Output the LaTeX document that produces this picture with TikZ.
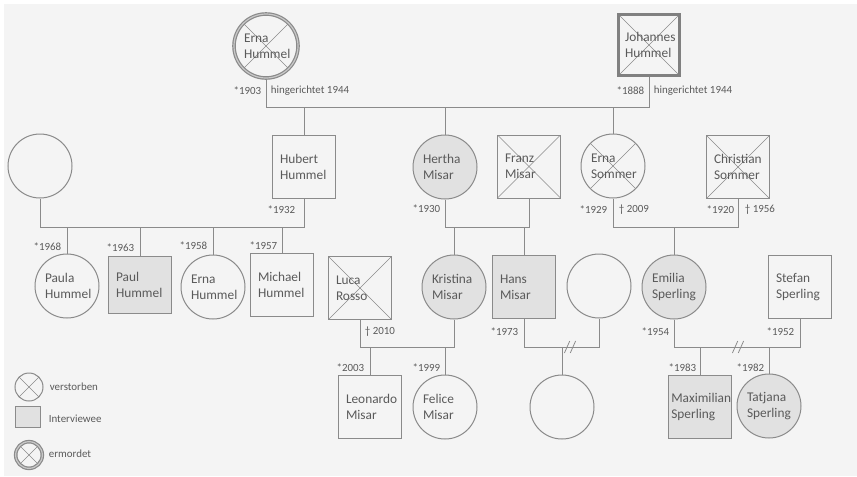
\documentclass[tikz,border=0pt]{standalone}
\usepackage{fontspec}
\setmainfont{Carlito}
\usetikzlibrary{patterns.meta}
\definecolor{linegray}{HTML}{8A8A8A}
\definecolor{textgray}{HTML}{5A5A5A}
\definecolor{bggray}{HTML}{F4F4F4}
\definecolor{dotbg}{HTML}{E8E8E8}
\definecolor{dotgray}{HTML}{9A9A9A}
\definecolor{ringgray}{HTML}{C8C8C8}
\newcommand{\namefont}{\fontsize{10}{12}\selectfont}
\newcommand{\lblfont}{\fontsize{8.2}{10}\selectfont}

\begin{document}
\begin{tikzpicture}[x=0.75pt, y=-0.75pt, line width=0.75pt, color=linegray,
    fem/.style={circle, draw=linegray, minimum size=48pt, inner sep=0pt,
        text=textgray, text width=33pt, align=left, font=\namefont},
    male/.style={rectangle, draw=linegray, minimum size=47.25pt, inner sep=0pt,
        text=textgray, text width=36pt, align=left, font=\namefont},
    dead/.style={path picture={
        \draw[linegray, line width=0.5pt] (path picture bounding box.north west) -- (path picture bounding box.south east);
        \draw[linegray, line width=0.5pt] (path picture bounding box.north east) -- (path picture bounding box.south west);}},
    interv/.style={fill=dotbg, postaction={pattern={Dots[distance=1.5pt, radius=0.25pt]}, pattern color=dotgray}},
    ring/.style={double=ringgray, double distance=0.9pt, line width=0.9pt},
    lbl/.style={text=textgray, font=\lblfont, inner sep=1pt}]

    % 背景
    \useasboundingbox (0,0) rectangle (857,476);
    \fill[white] (0,0) rectangle (857,476);
    \fill[bggray] (4,4) rectangle (857,476);

    % 第一代
    \node[fem, dead, ring] (ernaH) at (266,46) {Erna\\Hummel};
    \node[male, dead, draw=gray, line width=2.6pt, minimum size=45.5pt] (johannes) at (649,45) {Johannes\\Hummel};
    \coordinate (famTop) at (0,107);
    \draw (ernaH.south) |- (johannes.south |- famTop) -- (johannes.south);
    \node[lbl, anchor=east] (b1903) at (263,91) {*1903};
    \node[lbl, anchor=west] (d1903) at (269,91) {hingerichtet 1944};
    \node[lbl, anchor=east] (b1888) at (646,91) {*1888};
    \node[lbl, anchor=west] (d1888) at (652,91) {hingerichtet 1944};

    % 第二代
    \node[fem] (wifeH) at (40,166) {};
    \node[male] (hubert) at (304,166.5) {Hubert\\Hummel};
    \node[fem, interv] (hertha) at (445,167) {Hertha\\Misar};
    \node[male, dead] (franz) at (529,166.5) {Franz\\Misar};
    \node[fem, dead] (ernaS) at (613,166) {Erna\\Sommer};
    \node[male, dead] (christian) at (738,167) {Christian\\Sommer};
    \foreach \kid in {hubert, hertha, ernaS}
        \draw (\kid.north) -- (\kid.north |- famTop);

    \node[lbl, anchor=east] (b1932) at (297,210) {*1932};
    \node[lbl, anchor=east] (b1930) at (442,209) {*1930};
    \node[lbl, anchor=east] (b1929) at (609,210) {*1929};
    \node[lbl, anchor=west] (d1929) at (617,210) {† 2009};
    \node[lbl, anchor=east] (b1920) at (736,210) {*1920};
    \node[lbl, anchor=west] (d1920) at (743,210) {† 1956};

    \coordinate (famMid) at (0,227);
    \draw (wifeH.south) |- (hubert.south |- famMid) -- (hubert.south);
    \draw (hertha.south) |- (franz.south |- famMid) -- (franz.south);
    \draw (ernaS.south) |- (christian.south |- famMid) -- (christian.south);

    % 第三代
    \node[fem] (paula) at (67,286) {Paula\\Hummel};
    \node[male, interv, minimum height=42.75pt] (paul) at (140,284.5) {Paul\\Hummel};
    \node[fem] (ernaH2) at (213,287) {Erna\\Hummel};
    \node[male] (michael) at (282,284.5) {Michael\\Hummel};
    \node[male, dead] (luca) at (360,288) {Luca\\Rosso};
    \node[fem, interv] (kristina) at (454,287) {Kristina\\Misar};
    \node[male, interv] (hans) at (524,287) {Hans\\Misar};
    \node[fem] (partnerH) at (599,286) {};
    \node[fem, interv] (emilia) at (674,287) {Emilia\\Sperling};
    \node[male] (stefan) at (800,287) {Stefan\\Sperling};
    \foreach \kid in {paula, paul, ernaH2, michael, kristina, hans, emilia}
        \draw (\kid.north) -- (\kid.north |- famMid);

    \node[lbl, anchor=east] (b1968) at (63,247) {*1968};
    \node[lbl, anchor=east] (b1963) at (136,248) {*1963};
    \node[lbl, anchor=east] (b1958) at (209,246) {*1958};
    \node[lbl, anchor=east] (b1957) at (279,246) {*1957};

    \coordinate (famLow) at (0,347);
    \draw (luca.south) |- (kristina.south |- famLow) -- (kristina.south);
    \draw (hans.south) |- (partnerH.south |- famLow) -- (partnerH.south);
    \draw (emilia.south) |- (stefan.south |- famLow) -- (stefan.south);
    % 离婚标记
    \coordinate (cutHans) at (570,347);
    \coordinate (cutEmilia) at (738,347);
    \foreach \cut in {cutHans, cutEmilia}
        \foreach \d in {-2.2pt, 2.2pt}
            \draw[line width=0.6pt] ([xshift=\d-2pt, yshift=-4.5pt]\cut) -- ++(4pt,9pt);

    \node[lbl, anchor=west] (d2010) at (363,332) {† 2010};
    \node[lbl, anchor=east] (b1973) at (520,332) {*1973};
    \node[lbl, anchor=east] (b1954) at (671,332) {*1954};
    \node[lbl, anchor=east] (b1952) at (796,332) {*1952};

    % 第四代
    \node[male] (leonardo) at (370,407) {Leonardo\\Misar};
    \node[fem] (felice) at (445,407) {Felice\\Misar};
    \node[fem] (childH) at (562,407) {};
    \node[male, interv, text width=43pt] (maximilian) at (700,407) {Maximilian\\Sperling};
    \node[fem, interv] (tatjana) at (769,406) {Tatjana\\Sperling};
    \foreach \kid in {leonardo, felice, childH, maximilian, tatjana}
        \draw (\kid.north) -- (\kid.north |- famLow);

    \node[lbl, anchor=east] (b2003) at (366,368) {*2003};
    \node[lbl, anchor=east] (b1999) at (442,368) {*1999};
    \node[lbl, anchor=east] (b1983) at (698,368) {*1983};
    \node[lbl, anchor=east] (b1982) at (766,368) {*1982};

    % 图例
    \node[circle, draw=linegray, dead, minimum size=21pt, inner sep=0pt] (legDead) at (29,387) {};
    \node[lbl, anchor=west] (legDeadTxt) at (48,387) {verstorben};
    \node[rectangle, draw=linegray, interv, minimum width=18.75pt, minimum height=15.75pt, inner sep=0pt] (legInt) at (28,417) {};
    \node[lbl, anchor=west] (legIntTxt) at (47,419) {Interviewee};
    \node[circle, draw=linegray, dead, ring, minimum size=20pt, inner sep=0pt] (legMurder) at (29,455) {};
    \node[lbl, anchor=west] (legMurderTxt) at (47,454) {ermordet};
\end{tikzpicture}
\end{document}
